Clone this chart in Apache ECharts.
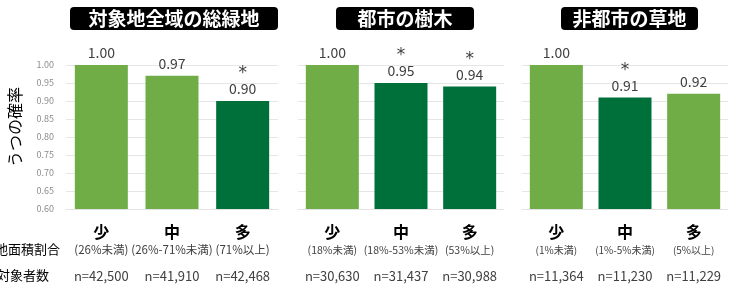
<!DOCTYPE html>
<html><head><meta charset="utf-8">
<script src="https://cdn.jsdelivr.net/npm/echarts@6/dist/echarts.min.js"></script>
<style>html,body{margin:0;padding:0;background:#fff}#c{width:731px;height:296px}</style>
</head><body><div id="c"></div>
<script>
// ---- data ----
const panelTitles = ['対象地全域の総緑地', '都市の樹木', '非都市の草地'];
const levels = ['少', '中', '多'];
const ranges1 = ['(26%未満)', '(26%-71%未満)', '(71%以上)'];
const ranges2 = ['(18%未満)', '(18%-53%未満)', '(53%以上)'];
const ranges3 = ['(1%未満)', '(1%-5%未満)', '(5%以上)'];
const counts1 = ['n=42,500', 'n=41,910', 'n=42,468'];
const counts2 = ['n=30,630', 'n=31,437', 'n=30,988'];
const counts3 = ['n=11,364', 'n=11,230', 'n=11,229'];
const values1 = [1.00, 0.97, 0.90];
const values2 = [1.00, 0.95, 0.94];
const values3 = [1.00, 0.91, 0.92];
const signif1 = [false, false, true];
const signif2 = [false, true, true];
const signif3 = [false, true, false];
const yTicks = [0.60, 0.65, 0.70, 0.75, 0.80, 0.85, 0.90, 0.95, 1.00];
const yAxisTitle = 'うつの確率';
const rowTitles = ['緑地面積割合', '対象者数'];

const LIGHT = '#70AD47', DARK = '#00703A';
const FONT = '"Noto Sans CJK JP", "Noto Sans", sans-serif';
const panels = [
  {title: panelTitles[0], ranges: ranges1, counts: counts1, values: values1, sig: signif1, left: 66, width: 212, box: [70, 208], rfs: 11.5},
  {title: panelTitles[1], ranges: ranges2, counts: counts2, values: values2, sig: signif2, left: 298, width: 206, box: [336, 138], rfs: 10.5},
  {title: panelTitles[2], ranges: ranges3, counts: counts3, values: values3, sig: signif3, left: 522, width: 206, box: [561, 137], rfs: 10}
];
const TOP = 65, HEIGHT = 144;

const grids = [], xAxes = [], yAxes = [], series = [], graphics = [];
panels.forEach((p, i) => {
  grids.push({left: p.left, top: TOP, width: p.width, height: HEIGHT});
  const cats = levels.map((l, k) => l + '|' + p.ranges[k] + '|' + p.counts[k]);
  xAxes.push({
    type: 'category', gridIndex: i, data: cats,
    axisLine: {show: true, lineStyle: {color: '#E3E3E3'}}, axisTick: {show: false},
    axisLabel: {
      interval: 0, margin: 12,
      formatter: v => { const s = v.split('|'); return '{a|' + s[0] + '}\n{b|' + s[1] + '}\n{c|' + s[2] + '}'; },
      rich: {
        a: {fontSize: 16, fontWeight: 'bold', color: '#000', lineHeight: 22, fontFamily: FONT},
        b: {fontSize: p.rfs, color: '#404040', lineHeight: 14, fontFamily: FONT},
        c: {fontSize: 13, color: '#404040', lineHeight: 38, fontFamily: FONT}
      }
    }
  });
  yAxes.push({
    type: 'value', gridIndex: i, min: yTicks[0], max: yTicks[yTicks.length - 1], interval: 0.05,
    axisLine: {show: false}, axisTick: {show: false},
    splitLine: {lineStyle: {color: '#E6E6E6'}},
    axisLabel: {show: i === 0, formatter: v => v.toFixed(2), fontSize: 9, color: '#8C8C8C', margin: 12, fontFamily: FONT}
  });
  series.push({
    type: 'bar', xAxisIndex: i, yAxisIndex: i, barWidth: 53,
    data: p.values.map((v, k) => ({value: v, itemStyle: {color: p.sig[k] ? DARK : LIGHT}, sig: p.sig[k]})),
    label: {
      show: true, position: 'top', distance: 4,
      formatter: prm => (prm.data.sig ? '{s|*}\n' : '') + '{v|' + prm.value.toFixed(2) + '}',
      rich: {
        s: {fontSize: 17, color: '#404040', lineHeight: 14, fontFamily: 'DejaVu Sans'},
        v: {fontSize: 14, color: '#404040', lineHeight: 16, fontFamily: FONT}
      }
    }
  });
  graphics.push({
    type: 'group', left: p.box[0], top: 7,
    children: [
      {type: 'rect', shape: {x: 0, y: 0, width: p.box[1], height: 23, r: 4}, style: {fill: '#000'}},
      {type: 'text', x: p.box[1] / 2, y: 12, style: {text: p.title, fill: '#fff', font: 'bold 19px ' + FONT, textAlign: 'center', textVerticalAlign: 'middle'}}
    ]
  });
});

graphics.push({type: 'text', x: 15, y: 127, rotation: Math.PI / 2, style: {text: yAxisTitle, fill: '#000', font: '16px ' + FONT, textAlign: 'center', textVerticalAlign: 'middle'}});
graphics.push({type: 'text', x: 60, y: 249, style: {text: rowTitles[0], fill: '#000', font: '13px ' + FONT, textAlign: 'right', textVerticalAlign: 'middle'}});
graphics.push({type: 'text', x: 49, y: 275, style: {text: rowTitles[1], fill: '#000', font: '13px ' + FONT, textAlign: 'right', textVerticalAlign: 'middle'}});

const chart = echarts.init(document.getElementById('c'));
chart.setOption({
  animation: false,
  textStyle: {fontFamily: FONT},
  grid: grids, xAxis: xAxes, yAxis: yAxes, series: series, graphic: graphics
});
</script></body></html>
